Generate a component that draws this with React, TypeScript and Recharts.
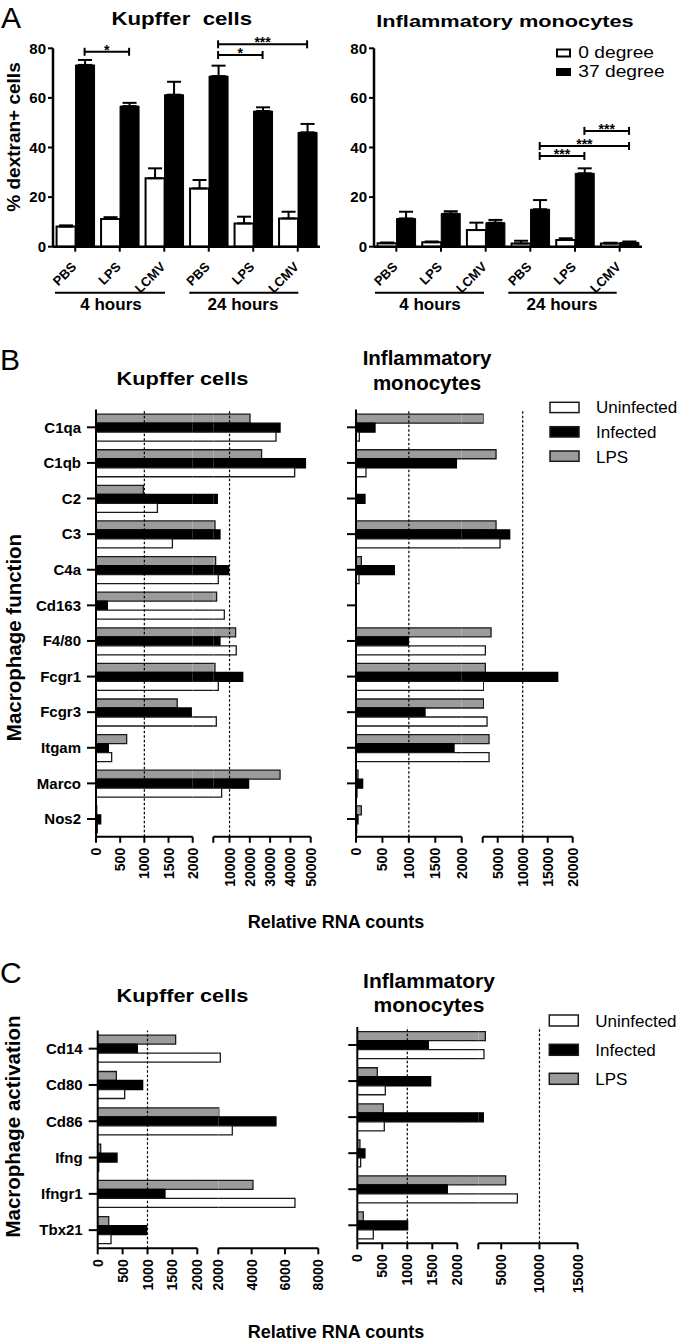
import React from 'react';
import { BarChart, Bar, XAxis, YAxis, ErrorBar, ReferenceLine } from 'recharts';

const FONT = '"Liberation Sans", Arial, Helvetica, sans-serif';
const W = 680;
const H = 1342;

// ---------- Panel A data ----------
const aCategories = ['PBS', 'LPS', 'LCMV', 'PBS', 'LPS', 'LCMV'];
const aTimeGroups = ['4 hours', '24 hours'];
const aYTicks = [0, 20, 40, 60, 80];
const aKupffer0 = [8.1, 11.2, 27.6, 23.5, 9.4, 11.4];
const aKupffer0Err = [0.5, 0.7, 4.0, 3.4, 2.7, 2.7];
const aKupffer37 = [73.3, 56.7, 61.3, 68.8, 54.7, 46.1];
const aKupffer37Err = [2.0, 1.3, 5.2, 4.2, 1.5, 3.4];
const aMono0 = [1.4, 1.8, 6.7, 1.3, 2.7, 1.3];
const aMono0Err = [0.3, 0.3, 3.0, 1.1, 0.7, 0.3];
const aMono37 = [11.4, 13.4, 9.7, 15.1, 29.6, 1.7];
const aMono37Err = [2.7, 0.9, 1.1, 3.7, 2.0, 0.4];
const aKupfferSig = [
  { from: 0, to: 1, y: 78.6, label: '*' },
  { from: 3, to: 5, y: 81.6, label: '***' },
  { from: 3, to: 4, y: 77.3, label: '*' },
];
const aMonoSig = [
  { from: 3, to: 4, y: 36.6, label: '***' },
  { from: 3, to: 5, y: 40.6, label: '***' },
  { from: 4, to: 5, y: 46.7, label: '***' },
];

// ---------- Panel B data ----------
const bGenes = ['C1qa', 'C1qb', 'C2', 'C3', 'C4a', 'Cd163', 'F4/80', 'Fcgr1', 'Fcgr3', 'Itgam', 'Marco', 'Nos2'];
const bKupfferUninfected = [32900, 42100, 1270, 1580, 4470, 7430, 13300, 4470, 3480, 324, 6110, 28];
const bKupfferInfected = [34900, 47400, 3970, 5290, 9560, 234, 5290, 16500, 1970, 255, 19400, 97];
const bKupfferLPS = [20100, 25800, 980, 2820, 3150, 3640, 13000, 2820, 1680, 634, 34900, 15];
const bMonoUninfected = [63, 189, 0, 5470, 57, 0, 2530, 2130, 2870, 3270, 19, 13];
const bMonoInfected = [360, 1900, 170, 7400, 725, 0, 990, 17000, 1306, 1855, 126, 38];
const bMonoLPS = [2070, 4670, 0, 4670, 101, 0, 3670, 2530, 2130, 3270, 38, 101];
const bLeftTicks = [0, 500, 1000, 1500, 2000];
const bKupfferRightTicks = [2000, 10000, 20000, 30000, 40000, 50000];
const bMonoRightTicks = [2000, 5000, 10000, 15000, 20000];

// ---------- Panel C data ----------
const cGenes = ['Cd14', 'Cd80', 'Cd86', 'Ifng', 'Ifngr1', 'Tbx21'];
const cKupfferUninfected = [2120, 542, 2840, 20, 6600, 268];
const cKupfferInfected = [796, 903, 5460, 388, 1351, 983];
const cKupfferLPS = [1565, 375, 2030, 60, 4080, 221];
const cMonoUninfected = [2740, 560, 540, 67, 7110, 320];
const cMonoInfected = [1420, 1467, 2655, 153, 1800, 1007];
const cMonoLPS = [2920, 400, 520, 53, 5580, 120];
const cLeftTicks = [0, 500, 1000, 1500, 2000];
const cKupfferRightTicks = [2000, 4000, 6000, 8000];
const cMonoRightTicks = [2000, 5000, 10000, 15000];

const legendLabels = ['Uninfected', 'Infected', 'LPS'];
const GRAY = '#9b9b9b';
const EDGE = '#1a1a1a';

// ---------- Panel A chart ----------
const A_GAP = 0.08;
const BLACK_OFFSET = (1 - 2 * A_GAP) / 4;
const catKey = (i: number) => `${aCategories[i]}|${i}`;

const DiagTick = (props: any) => {
  const { x, y, payload } = props;
  const ax = x + 2;
  const ay = y + 14;
  const label = String(payload.value).split('|')[0];
  return (
    <text x={ax} y={ay} transform={`rotate(-45 ${ax} ${ay})`} textAnchor="end" fontSize={13} fontWeight="bold" fill="#000">
      {label}
    </text>
  );
};

const bracketShape = (label: string, dx: number) => (props: any) => {
  const { x1, x2, y1 } = props;
  const a = Math.min(x1, x2) + dx;
  const b = Math.max(x1, x2) + dx;
  return (
    <g>
      <line x1={a} x2={b} y1={y1} y2={y1} stroke="#000" strokeWidth={2} />
      <line x1={a} x2={a} y1={y1 - 4} y2={y1 + 4} stroke="#000" strokeWidth={2} />
      <line x1={b} x2={b} y1={y1 - 4} y2={y1 + 4} stroke="#000" strokeWidth={2} />
      <text x={(a + b) / 2} y={y1 + 3} textAnchor="middle" fontSize={14} fontWeight="bold" fill="#000">
        {label}
      </text>
    </g>
  );
};

function DextranChart({ left, right, v0, e0, v37, e37, sig }: any) {
  const top = 48.3;
  const bottom = 246.7;
  const yw = 45;
  const xh = 60;
  const rows = aCategories.map((cat, i) => ({
    key: catKey(i),
    d0: v0[i],
    d0e: [0, e0[i]],
    d37: v37[i],
    d37e: [0, e37[i]],
  }));
  const dx = BLACK_OFFSET * ((right - left) / aCategories.length);
  return (
    <div style={{ position: 'absolute', left: 0, top: 0 }}>
      <BarChart
        width={W}
        height={H}
        data={rows}
        margin={{ top, left: left - yw, right: W - right, bottom: H - bottom - xh }}
        barCategoryGap={`${A_GAP * 100}%`}
        barGap={0}
      >
        <XAxis
          dataKey="key"
          height={xh}
          interval={0}
          tickSize={5}
          tickMargin={2}
          tick={(p: any) => <DiagTick {...p} />}
          axisLine={{ stroke: '#000', strokeWidth: 2.5 }}
          tickLine={{ stroke: '#000', strokeWidth: 2 }}
        />
        <YAxis
          type="number"
          domain={[0, 80]}
          ticks={aYTicks}
          interval={0}
          width={yw}
          allowDataOverflow
          tickSize={5}
          tickMargin={2}
          tick={{ fontSize: 15, fontWeight: 'bold', fill: '#000' }}
          axisLine={{ stroke: '#000', strokeWidth: 2.5 }}
          tickLine={{ stroke: '#000', strokeWidth: 2 }}
        />
        <Bar dataKey="d0" fill="#fff" stroke="#000" strokeWidth={2} isAnimationActive={false}>
          <ErrorBar dataKey="d0e" width={7} stroke="#000" strokeWidth={2} direction="y" />
        </Bar>
        <Bar dataKey="d37" fill="#000" stroke="#000" strokeWidth={1} isAnimationActive={false}>
          <ErrorBar dataKey="d37e" width={7} stroke="#000" strokeWidth={2} direction="y" />
        </Bar>
        {sig.map((s: any, k: number) => (
          <ReferenceLine
            key={`sig${k}`}
            segment={[{ x: catKey(s.from), y: s.y }, { x: catKey(s.to), y: s.y }]}
            ifOverflow="visible"
            stroke="#000"
            shape={bracketShape(s.label, dx)}
          />
        ))}
      </BarChart>
    </div>
  );
}

// ---------- Broken-axis horizontal bar charts ----------
const VTick = (props: any) => {
  const { x, y, payload, hideValue } = props;
  if (hideValue !== undefined && payload.value === hideValue) return <g />;
  return (
    <text x={x} y={y} transform={`rotate(-90 ${x} ${y})`} textAnchor="end" dy="0.36em" fontSize={14} fontWeight="bold" fill="#000">
      {payload.value}
    </text>
  );
};

const makeShape = (key: string, min: number) => (props: any) => {
  const { x, y, width, height, fill, stroke, strokeWidth, payload } = props;
  const v = payload ? payload[key] : null;
  if (v == null || v <= min || !(width > 0)) return <g />;
  return (
    <g>
      <rect x={x} y={y} width={width} height={height} fill={fill} stroke="none" />
      <path d={`M${x},${y}H${x + width}V${y + height}H${x}`} fill="none" stroke={stroke} strokeWidth={strokeWidth} />
    </g>
  );
};

function SegChart({ rows, top, bottom, left, right, domain, ticks, hideStart, dashed, yMode, showX }: any) {
  const yw = yMode === 'labels' ? 90 : yMode === 'ticks' ? 12 : 0;
  const xh = 60;
  const min = domain[0] > 0 ? domain[0] : -1;
  return (
    <div style={{ position: 'absolute', left: 0, top: 0 }}>
      <BarChart
        width={W}
        height={H}
        layout="vertical"
        data={rows}
        margin={{ top, bottom: H - bottom - (showX ? xh : 0), left: left - yw, right: W - right }}
        barCategoryGap="13%"
        barGap={0}
      >
        <XAxis
          type="number"
          domain={domain}
          allowDataOverflow
          hide={!showX}
          ticks={ticks}
          interval={0}
          height={xh}
          tickSize={6}
          tickMargin={5}
          tick={(p: any) => <VTick {...p} hideValue={hideStart ? domain[0] : undefined} />}
          axisLine={{ stroke: '#000', strokeWidth: 2 }}
          tickLine={{ stroke: '#000', strokeWidth: 2 }}
        />
        <YAxis
          type="category"
          dataKey="gene"
          hide={yMode === 'none'}
          width={yw || 1}
          interval={0}
          tickSize={9}
          tickMargin={6}
          tickFormatter={yMode === 'labels' ? undefined : () => ''}
          tick={{ fontSize: 15, fontWeight: 'bold', fill: '#000' }}
          axisLine={{ stroke: '#000', strokeWidth: 2 }}
          tickLine={{ stroke: '#000', strokeWidth: 2 }}
        />
        {(dashed || []).map((v: number) => (
          <ReferenceLine key={`dl${v}`} x={v} stroke="#000" strokeWidth={1.2} strokeDasharray="2.5 2" />
        ))}
        <Bar dataKey="lps" fill={GRAY} stroke={EDGE} strokeWidth={1.3} isAnimationActive={false} shape={makeShape('lps', min)} />
        <Bar dataKey="infected" fill="#000" stroke="#000" strokeWidth={1.3} isAnimationActive={false} shape={makeShape('infected', min)} />
        <Bar dataKey="uninfected" fill="#fff" stroke={EDGE} strokeWidth={1.3} isAnimationActive={false} shape={makeShape('uninfected', min)} />
      </BarChart>
    </div>
  );
}

function BrokenPanel({ genes, U, I, L, top, bottom, xs, rightDomain, leftTicks, rightTicks, hideStart, leftDashed, rightDashed, labels }: any) {
  const rows = genes.map((gene: string, i: number) => ({ gene, uninfected: U[i], infected: I[i], lps: L[i] }));
  const [x0, x1, x2, x3] = xs;
  return (
    <>
      <SegChart rows={rows} top={top} bottom={bottom} left={x2} right={x3} domain={rightDomain} ticks={rightTicks} hideStart={hideStart} dashed={rightDashed} yMode="none" showX />
      <SegChart rows={rows} top={top} bottom={bottom} left={x1 - 0.3} right={x2 + 0.3} domain={[2000, 2001]} yMode="none" showX={false} />
      <SegChart rows={rows} top={top} bottom={bottom} left={x0} right={x1} domain={[0, 2000]} ticks={leftTicks} dashed={leftDashed} yMode={labels ? 'labels' : 'ticks'} showX />
    </>
  );
}

function Overlay() {
  const bold = { fontWeight: 'bold' as const };
  const legend = (x: number, ys: number[], tys: number[], h: number) =>
    legendLabels.map((lab, i) => (
      <g key={lab}>
        <rect x={x} y={ys[i]} width={29} height={h} fill={i === 0 ? '#fff' : i === 1 ? '#000' : GRAY} stroke={EDGE} strokeWidth={1.5} />
        <text x={x + 46} y={tys[i]} fontSize={17}>{lab}</text>
      </g>
    ));
  return (
    <svg width={W} height={H} style={{ position: 'absolute', left: 0, top: 0, pointerEvents: 'none' }} fontFamily={FONT}>
      {/* Panel A */}
      <text x={1} y={27.5} fontSize={30}>A</text>
      <text transform="translate(181.7,25) scale(1.2,1)" textAnchor="middle" fontSize={18.5} style={{ whiteSpace: 'pre' }} {...bold}>Kupffer  cells</text>
      <text transform="translate(505,26.7) scale(1.28,1)" textAnchor="middle" fontSize={17} {...bold}>Inflammatory monocytes</text>
      <text transform="translate(20,137) rotate(-90)" textAnchor="middle" fontSize={19} {...bold}>% dextran+ cells</text>
      <line x1={55} x2={165} y1={292.7} y2={292.7} stroke="#000" strokeWidth={2} />
      <line x1={189.3} x2={298.3} y1={292.7} y2={292.7} stroke="#000" strokeWidth={2} />
      <line x1={375} x2={484} y1={292.7} y2={292.7} stroke="#000" strokeWidth={2} />
      <line x1={508.3} x2={616.7} y1={292.7} y2={292.7} stroke="#000" strokeWidth={2} />
      <text x={111} y={310} textAnchor="middle" fontSize={17} {...bold}>{aTimeGroups[0]}</text>
      <text x={243} y={310} textAnchor="middle" fontSize={17} {...bold}>{aTimeGroups[1]}</text>
      <text x={430} y={310} textAnchor="middle" fontSize={17} {...bold}>{aTimeGroups[0]}</text>
      <text x={562} y={310} textAnchor="middle" fontSize={17} {...bold}>{aTimeGroups[1]}</text>
      <rect x={557} y={49.5} width={13} height={7} fill="#fff" stroke="#000" strokeWidth={2} />
      <rect x={556} y={68} width={15} height={8} fill="#000" />
      <text transform="translate(578.3,58.3) scale(1.2,1)" fontSize={16}>0 degree</text>
      <text transform="translate(578.3,77.3) scale(1.2,1)" fontSize={16}>37 degree</text>

      {/* Panel B */}
      <text x={0} y={370} fontSize={30}>B</text>
      <text transform="translate(182.5,385) scale(1.17,1)" textAnchor="middle" fontSize={18.6} {...bold}>Kupffer cells</text>
      <text x={427} y={365} textAnchor="middle" fontSize={20.5} {...bold}>Inflammatory</text>
      <text x={427} y={390} textAnchor="middle" fontSize={20.5} {...bold}>monocytes</text>
      <text transform="translate(21,637.5) rotate(-90)" textAnchor="middle" fontSize={20.5} {...bold}>Macrophage function</text>
      <text x={336} y={928.3} textAnchor="middle" fontSize={18} {...bold}>Relative RNA counts</text>
      {legend(550, [402.3, 426.7, 451], [413.3, 438.3, 462.7], 10.3)}

      {/* Panel C */}
      <text x={0} y={983.3} fontSize={30}>C</text>
      <text transform="translate(182.5,1001.7) scale(1.17,1)" textAnchor="middle" fontSize={18.6} {...bold}>Kupffer cells</text>
      <text x={429} y={988.3} textAnchor="middle" fontSize={21} {...bold}>Inflammatory</text>
      <text x={429} y={1011.7} textAnchor="middle" fontSize={21} {...bold}>monocytes</text>
      <text transform="translate(20,1126.5) rotate(-90)" textAnchor="middle" fontSize={20.5} {...bold}>Macrophage activation</text>
      <text x={336} y={1338} textAnchor="middle" fontSize={18} {...bold}>Relative RNA counts</text>
      {legend(549.3, [1015, 1044.3, 1073.3], [1027.3, 1056, 1085], 11)}
    </svg>
  );
}

export default function App() {
  return (
    <div style={{ position: 'relative', width: W, height: H, fontFamily: FONT, background: '#fff', overflow: 'hidden' }}>
      <style>{`body{margin:0;background:#fff}`}</style>
      <DextranChart left={53} right={320} v0={aKupffer0} e0={aKupffer0Err} v37={aKupffer37} e37={aKupffer37Err} sig={aKupfferSig} />
      <DextranChart left={374} right={642} v0={aMono0} e0={aMono0Err} v37={aMono37} e37={aMono37Err} sig={aMonoSig} />

      <BrokenPanel
        genes={bGenes} U={bKupfferUninfected} I={bKupfferInfected} L={bKupfferLPS}
        top={409.5} bottom={836.8} xs={[96, 192.7, 213.3, 310.7]}
        rightDomain={[2000, 50000]} leftTicks={bLeftTicks} rightTicks={bKupfferRightTicks} hideStart
        leftDashed={[1000]} rightDashed={[10000]} labels
      />
      <BrokenPanel
        genes={bGenes} U={bMonoUninfected} I={bMonoInfected} L={bMonoLPS}
        top={409.5} bottom={836.8} xs={[356, 461.7, 482.7, 572.7]}
        rightDomain={[2000, 20000]} leftTicks={bLeftTicks} rightTicks={bMonoRightTicks} hideStart
        leftDashed={[1000]} rightDashed={[10000]} labels={false}
      />
      <BrokenPanel
        genes={cGenes} U={cKupfferUninfected} I={cKupfferInfected} L={cKupfferLPS}
        top={1030.5} bottom={1248.3} xs={[97.7, 197.3, 218.3, 318.3]}
        rightDomain={[2000, 8000]} leftTicks={cLeftTicks} rightTicks={cKupfferRightTicks} hideStart={false}
        leftDashed={[1000]} rightDashed={[]} labels
      />
      <BrokenPanel
        genes={cGenes} U={cMonoUninfected} I={cMonoInfected} L={cMonoLPS}
        top={1027} bottom={1243.3} xs={[357.3, 457.3, 478.3, 577.7]}
        rightDomain={[2000, 15000]} leftTicks={cLeftTicks} rightTicks={cMonoRightTicks} hideStart
        leftDashed={[1000]} rightDashed={[10000]} labels={false}
      />
      <Overlay />
    </div>
  );
}
